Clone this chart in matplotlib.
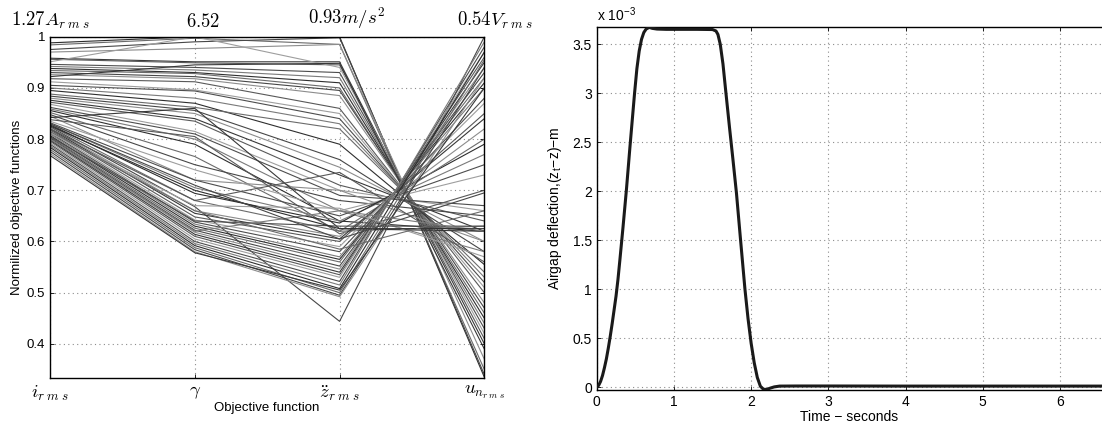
import matplotlib
matplotlib.use("Agg")
import matplotlib.pyplot as plt
import numpy as np
from matplotlib.ticker import FuncFormatter

plt.rcParams["font.family"] = ["Liberation Sans", "DejaVu Sans"]
plt.rcParams["mathtext.fontset"] = "cm"

# ---------------------------------------------------------------------------
# Parallel coordinates: normalised objectives of the Pareto set
# ---------------------------------------------------------------------------
OBJ_LABELS = [r"$i_{r\;m\;s}$", r"$\gamma$", r"$\ddot{z}_{r\;m\;s}$",
              r"$u_{n_{r\;m\;s}}$"]
OBJ_MAXIMA = [r"$1.27A_{r\;m\;s}$", r"$6.52$", r"$0.93m/s^2$",
              r"$0.54V_{r\;m\;s}$"]

I_RMS = [0.988, 0.984, 0.975, 0.970, 0.958, 0.956, 0.951, 0.946, 0.942, 0.938,
         0.934, 0.930, 0.926, 0.922, 0.918, 0.912, 0.905, 0.900, 0.895, 0.888,
         0.884, 0.880, 0.876, 0.872, 0.868, 0.862, 0.859, 0.856, 0.852, 0.848,
         0.845, 0.842, 0.838, 0.835, 0.832, 0.830, 0.828, 0.826, 0.824, 0.822,
         0.820, 0.818, 0.815, 0.812, 0.810, 0.807, 0.804, 0.802, 0.800, 0.798,
         0.796, 0.793, 0.790, 0.787, 0.784, 0.780, 0.776, 0.772, 0.768, 0.820,
         0.812, 0.805, 0.800, 0.826, 0.815, 0.830]
GAMMA = [1.000, 0.997, 0.990, 0.977, 0.951, 0.949, 1.000, 0.940, 0.935, 0.930,
         0.928, 0.922, 0.918, 0.945, 0.912, 0.896, 0.894, 0.880, 0.870, 0.862,
         0.856, 0.850, 0.840, 0.835, 0.815, 0.810, 0.800, 0.790, 0.766, 0.750,
         0.720, 0.860, 0.805, 0.740, 0.720, 0.705, 0.694, 0.680, 0.668, 0.660,
         0.655, 0.648, 0.642, 0.638, 0.634, 0.630, 0.626, 0.622, 0.618, 0.614,
         0.610, 0.605, 0.600, 0.596, 0.592, 0.588, 0.584, 0.580, 0.578, 0.680,
         0.670, 0.640, 0.620, 0.700, 0.660, 0.710]
ZDD_RMS = [1.000, 0.985, 0.998, 0.985, 0.951, 0.945, 0.940, 0.930, 0.920, 0.910,
           0.900, 0.895, 0.885, 0.948, 0.860, 0.850, 0.840, 0.830, 0.790, 0.820,
           0.760, 0.745, 0.730, 0.710, 0.700, 0.690, 0.660, 0.640, 0.620, 0.680,
           0.700, 0.625, 0.615, 0.660, 0.650, 0.640, 0.636, 0.620, 0.444, 0.610,
           0.605, 0.600, 0.590, 0.580, 0.570, 0.565, 0.560, 0.552, 0.546, 0.540,
           0.535, 0.530, 0.522, 0.515, 0.508, 0.500, 0.495, 0.492, 0.505, 0.735,
           0.665, 0.630, 0.660, 0.625, 0.585, 0.605]
UN_RMS = [0.335, 0.350, 0.340, 0.370, 0.400, 0.410, 0.420, 0.430, 0.440, 0.450,
          0.460, 0.470, 0.480, 0.390, 0.500, 0.510, 0.520, 0.530, 0.555, 0.540,
          0.580, 0.600, 0.620, 0.640, 0.660, 0.670, 0.580, 0.620, 0.630, 0.650,
          0.600, 0.620, 0.700, 0.730, 0.750, 0.770, 0.790, 0.800, 1.000, 0.820,
          0.840, 0.850, 0.870, 0.880, 0.900, 0.910, 0.920, 0.930, 0.940, 0.950,
          0.960, 0.970, 0.980, 0.990, 0.970, 0.955, 0.940, 0.920, 0.900, 0.560,
          0.570, 0.630, 0.620, 0.625, 0.660, 0.695]

# ---------------------------------------------------------------------------
# Step response of the airgap deflection (values in 1e-3 m)
# ---------------------------------------------------------------------------
TIME_S = [0, 0.025, 0.05, 0.075, 0.10, 0.125, 0.15, 0.175, 0.20, 0.225, 0.25,
          0.275, 0.30, 0.34, 0.385, 0.43, 0.49, 0.52, 0.55, 0.58, 0.61, 0.64,
          0.68, 0.72, 0.78, 0.90, 1.1, 1.3, 1.5, 1.545, 1.57, 1.60, 1.635,
          1.67, 1.72, 1.765, 1.81, 1.86, 1.92, 1.96, 2.0, 2.04, 2.08, 2.12,
          2.16, 2.20, 2.25, 2.30, 2.37, 2.6, 3.0, 4.0, 5.0, 6.0, 6.6]
DEFLECTION_E3 = [0, 0.02, 0.06, 0.12, 0.20, 0.29, 0.40, 0.52, 0.65, 0.79,
                 0.93, 1.10, 1.30, 1.63, 2.02, 2.45, 3.0, 3.25, 3.43, 3.55,
                 3.62, 3.655, 3.672, 3.662, 3.655, 3.652, 3.652, 3.652, 3.65,
                 3.635, 3.60, 3.50, 3.30, 3.03, 2.65, 2.32, 1.98, 1.53, 1.0,
                 0.70, 0.45, 0.25, 0.10, 0.01, -0.02, -0.022, -0.008, 0.004,
                 0.012, 0.013, 0.013, 0.012, 0.012, 0.012, 0.012]

GRAYS = ["0.18", "0.42", "0.28", "0.55", "0.22", "0.35", "0.62", "0.30", "0.48"]
GRID_KW = dict(color="0.55", linestyle=(0, (1, 3)), linewidth=0.8)
TICK_FS = 9.5
MATH_FS = 13.5

fig = plt.figure(figsize=(11.02, 4.25), dpi=100)

# ---- left: parallel coordinates ----
ax = fig.add_axes([0.0454, 0.1106, 0.3941, 0.8030])
data = np.column_stack([I_RMS, GAMMA, ZDD_RMS, UN_RMS])
xs = np.arange(1, data.shape[1] + 1)
for k, row in enumerate(data):
    ax.plot(xs, row, color=GRAYS[k % len(GRAYS)], linewidth=0.8, zorder=2)

ax.set_xlim(1, 4)
ax.set_ylim(1 / 3, 1)
ax.set_xticks(xs)
ax.set_xticklabels(OBJ_LABELS, fontsize=MATH_FS)
ax.set_yticks(np.arange(0.4, 1.01, 0.1))
ax.yaxis.set_major_formatter(FuncFormatter(lambda v, _: f"{v:g}"))
ax.tick_params(axis="y", labelsize=TICK_FS)
ax.tick_params(direction="in", top=True, right=True, length=3, width=0.6)
ax.tick_params(axis="x", pad=4)
ax.grid(True, zorder=0, **GRID_KW)
ax.set_axisbelow(True)
for sp in ax.spines.values():
    sp.set_linewidth(1.0)

# maximum value of each objective written above its axis
offsets = [0.005, 0.06, 0.05, 0.07]
for x, lab, dx in zip(xs, OBJ_MAXIMA, offsets):
    ax.text(x + dx, 1.012, lab, ha="center", va="bottom", fontsize=MATH_FS)

ax.set_xlabel("Objective function", fontsize=TICK_FS, labelpad=-1)
ax.set_ylabel("Normilized objective functions", fontsize=TICK_FS, labelpad=3)

# ---- right: airgap deflection vs time ----
ax2 = fig.add_axes([0.5415, 0.0824, 0.4585, 0.8534])
ax2.plot(TIME_S, DEFLECTION_E3, color="0.1", linewidth=2.2, zorder=3)
ax2.set_xlim(0, 6.545)
ax2.set_ylim(-0.0276, 3.673)
ax2.set_xticks(range(0, 7))
ax2.set_yticks(np.arange(0, 3.51, 0.5))
ax2.yaxis.set_major_formatter(FuncFormatter(lambda v, _: f"{v:g}"))
ax2.tick_params(labelsize=10, direction="in", top=True, right=False,
                length=3, width=0.6)
ax2.grid(True, zorder=0, **GRID_KW)
ax2.set_axisbelow(True)
ax2.spines["right"].set_visible(False)
for sp in ax2.spines.values():
    sp.set_linewidth(1.0)

ax2.set_xlabel("Time \u2212 seconds", fontsize=10, labelpad=1)
ax2.set_ylabel("Airgap deflection,(z$_\\mathregular{t}$\u2212z)\u2212m",
               fontsize=10, labelpad=6)
ax2.text(0.0, 1.01, "x 10$^{\\mathregular{\u22123}}$", transform=ax2.transAxes,
         ha="left", va="bottom", fontsize=10)

fig.savefig("out.png", dpi=100)
